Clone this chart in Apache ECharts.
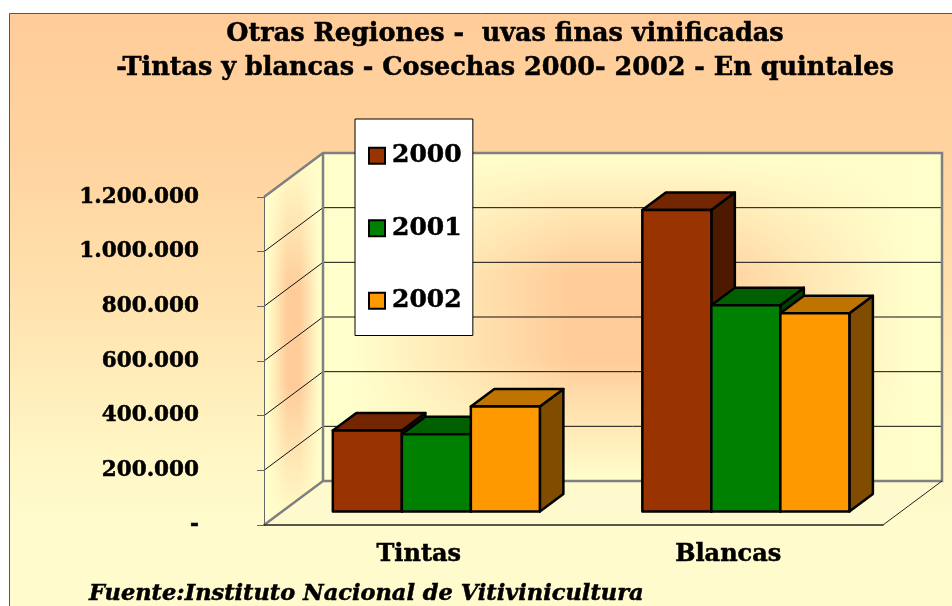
<!DOCTYPE html>
<html>
<head>
<meta charset="utf-8">
<style>
  html, body { margin: 0; padding: 0; background: #fff; }
  #chart { width: 952px; height: 606px; }
</style>
<script src="https://cdn.jsdelivr.net/npm/echarts@6/dist/echarts.min.js"></script>
</head>
<body>
<div id="chart"></div>
<script>
  // Data (quintales)
  const categories = ['Tintas', 'Blancas'];
  const years = ['2000', '2001', '2002'];
  const values2000 = [296000, 1103000];
  const values2001 = [283000, 755000];
  const values2002 = [384000, 725000];
  const yTicks = [0, 200000, 400000, 600000, 800000, 1000000, 1200000];
  const yTickLabels = ['-', '200.000', '400.000', '600.000', '800.000', '1.000.000', '1.200.000'];

  const FONT = '"DejaVu Serif", serif';
  const PEACH = '#FFCC99';

  // Faces of each bar: front, top, side
  const barColors = [
    ['#993300', '#732600', '#4D1A00'],
    ['#008000', '#006000', '#004000'],
    ['#FF9900', '#BF7300', '#804D00']
  ];

  // Depth of the 3D box and where the bars sit inside it
  const WALL_DX = 59, WALL_DY = -44;
  const BAR_SHIFT_X = 17.6, BAR_SHIFT_Y = -13.5;
  const BAR_DX = 23.5, BAR_DY = -17.5;
  const BAR_WIDTH_RATIO = 0.223;

  // Yellow veil, see-through in the middle: two crossed give the wall its peach centre
  function veil(horizontal, inner, outer) {
    return {
      type: 'linear', x: 0, y: 0, x2: horizontal ? 1 : 0, y2: horizontal ? 0 : 1,
      colorStops: [
        { offset: 0.5 - outer / 2, color: 'rgba(255,255,204,1)' },
        { offset: 0.5 - inner / 2, color: 'rgba(255,255,204,0)' },
        { offset: 0.5 + inner / 2, color: 'rgba(255,255,204,0)' },
        { offset: 0.5 + outer / 2, color: 'rgba(255,255,204,1)' }
      ]
    };
  }

  function renderWalls(params, api) {
    const box = params.coordSys;
    const x0 = box.x, x1 = box.x + box.width;
    const yBottom = box.y + box.height, yTop = box.y;
    const bx0 = x0 + WALL_DX, bx1 = x1 + WALL_DX;
    const byTop = yTop + WALL_DY, byBottom = yBottom + WALL_DY;
    const children = [];

    const sidePoints = [[x0, yTop], [bx0, byTop], [bx0, byBottom], [x0, yBottom]];
    const backPoints = [[bx0, byTop], [bx1, byTop], [bx1, byBottom], [bx0, byBottom]];
    const floorPoints = [[x0, yBottom], [bx0, byBottom], [bx1, byBottom], [x1, yBottom]];

    [sidePoints, backPoints].forEach(function (points) {
      children.push({ type: 'polygon', shape: { points: points }, style: { fill: PEACH } });
      children.push({ type: 'polygon', shape: { points: points }, style: { fill: veil(true, 0.2, 0.9) } });
      children.push({ type: 'polygon', shape: { points: points }, style: { fill: veil(false, 0.25, 1) } });
    });
    children.push({ type: 'polygon', shape: { points: floorPoints }, style: { fill: '#FFFACD' } });

    // Gridlines run along the side wall and then across the back wall
    yTicks.slice(1, -1).forEach(function (tick) {
      const y = api.coord([0, tick])[1];
      children.push({
        type: 'polyline',
        shape: { points: [[x0, y], [bx0, y + WALL_DY], [bx1, y + WALL_DY]] },
        style: { fill: 'none', stroke: '#111', lineWidth: 1 }
      });
    });

    // Grey frame of the walls
    children.push({
      type: 'polyline',
      shape: { points: [[x0, yTop], [bx0, byTop], [bx1, byTop], [bx1, byBottom], [bx0, byBottom], [x0, yBottom]] },
      style: { fill: 'none', stroke: '#808080', lineWidth: 2.5 }
    });
    children.push({
      type: 'line',
      shape: { x1: bx0, y1: byTop, x2: bx0, y2: byBottom },
      style: { stroke: '#808080', lineWidth: 2.5 }
    });
    children.push({
      type: 'line',
      shape: { x1: x1, y1: yBottom, x2: bx1, y2: byBottom },
      style: { stroke: '#222', lineWidth: 1 }
    });
    return { type: 'group', children: children };
  }

  function makeBarRenderer(yearIndex) {
    return function (params, api) {
      const top = api.coord([api.value(0), api.value(1)]);
      const base = api.coord([api.value(0), 0]);
      const band = api.size([1, 0])[0];
      const w = band * BAR_WIDTH_RATIO;
      const left = top[0] + (yearIndex - 1.5) * w + BAR_SHIFT_X;
      const right = left + w;
      const y0 = top[1] + BAR_SHIFT_Y;
      const y1 = base[1] + BAR_SHIFT_Y;
      const colors = barColors[yearIndex];
      const edge = { stroke: '#000', lineWidth: 2.5, lineJoin: 'round' };

      return {
        type: 'group',
        children: [
          {
            type: 'polygon',
            shape: { points: [[right, y0], [right + BAR_DX, y0 + BAR_DY], [right + BAR_DX, y1 + BAR_DY], [right, y1]] },
            style: Object.assign({ fill: colors[2] }, edge)
          },
          {
            type: 'polygon',
            shape: { points: [[left, y0], [left + BAR_DX, y0 + BAR_DY], [right + BAR_DX, y0 + BAR_DY], [right, y0]] },
            style: Object.assign({ fill: colors[1] }, edge)
          },
          {
            type: 'rect',
            shape: { x: left, y: y0, width: w, height: y1 - y0 },
            style: Object.assign({ fill: colors[0] }, edge)
          }
        ]
      };
    };
  }

  const chart = echarts.init(document.getElementById('chart'), null, { renderer: 'canvas' });

  const seriesValues = [values2000, values2001, values2002];
  const barSeries = years.map(function (year, i) {
    return {
      name: year,
      type: 'custom',
      coordinateSystem: 'cartesian2d',
      renderItem: makeBarRenderer(i),
      clip: false,
      z: 3,
      silent: true,
      itemStyle: { color: barColors[i][0] },
      encode: { x: 0, y: 1 },
      data: categories.map(function (c, k) { return [k, seriesValues[i][k]]; })
    };
  });

  // Text is a touch heavier in the original than DejaVu Serif Bold
  const heavy = { textBorderColor: '#000', textBorderWidth: 0.5 };

  chart.setOption({
    animation: false,
    backgroundColor: '#fff',
    graphic: [{
      type: 'rect',
      z: -10,
      shape: { x: 9.5, y: 13.5, width: 1000, height: 700 },
      style: {
        stroke: '#555',
        lineWidth: 1,
        fill: {
          type: 'linear', global: true, x: 0, y: 13, x2: 0, y2: 520,
          colorStops: [
            { offset: 0, color: PEACH },
            { offset: 0.27, color: '#FFD39F' },
            { offset: 0.57, color: '#FFE2AE' },
            { offset: 0.86, color: '#FFF6C4' },
            { offset: 1, color: '#FFFBCD' }
          ]
        }
      }
    }],
    title: [
      {
        text: 'Otras Regiones -  uvas finas vinificadas\n-Tintas y blancas - Cosechas 2000- 2002 - En quintales',
        left: 500,
        top: 12,
        textAlign: 'center',
        textStyle: Object.assign({ fontFamily: FONT, fontWeight: 'bold', fontSize: 25.5, lineHeight: 34, color: '#000' }, heavy)
      },
      {
        text: 'Fuente:Instituto Nacional de Vitivinicultura',
        left: 84,
        top: 578,
        textStyle: Object.assign({ fontFamily: FONT, fontWeight: 'bold', fontStyle: 'italic', fontSize: 22.5, color: '#000' }, heavy)
      }
    ],
    legend: {
      orient: 'vertical',
      left: 355,
      top: 119,
      padding: [24, 11, 22, 13],
      itemWidth: 16,
      itemHeight: 16,
      itemGap: 47,
      itemStyle: { borderColor: '#000', borderWidth: 2 },
      backgroundColor: '#fff',
      borderColor: '#000',
      borderWidth: 1,
      // Bottom padding pushes the middle-aligned text down to the swatch centre
      textStyle: Object.assign({ fontFamily: FONT, fontWeight: 'bold', fontSize: 25, color: '#000', padding: [0, 0, 6, 2] }, heavy),
      data: years.map(function (year, i) {
        return { name: year, icon: 'rect', itemStyle: { color: barColors[i][0], borderColor: '#000', borderWidth: 2 } };
      })
    },
    grid: { left: 264, right: 69, top: 197, bottom: 81 },
    xAxis: {
      type: 'category',
      data: categories,
      z: 5,
      axisLine: { lineStyle: { color: '#222', width: 1.5 } },
      axisTick: { length: 7, lineStyle: { color: '#222' } },
      axisLabel: Object.assign({ margin: 18, fontFamily: FONT, fontWeight: 'bold', fontSize: 24, color: '#000' }, heavy)
    },
    yAxis: {
      type: 'value',
      min: 0,
      max: 1200000,
      interval: 200000,
      z: 5,
      splitLine: { show: false },
      axisLine: { show: true, lineStyle: { color: '#666', width: 1 } },
      axisTick: { show: true, length: 7, lineStyle: { color: '#666' } },
      axisLabel: Object.assign({
        margin: 65,
        fontFamily: FONT,
        fontWeight: 'bold',
        fontSize: 21.5,
        color: '#000',
        formatter: function (value, index) { return yTickLabels[index]; }
      }, heavy)
    },
    series: [{
      name: 'walls',
      type: 'custom',
      coordinateSystem: 'cartesian2d',
      renderItem: renderWalls,
      clip: false,
      z: 1,
      silent: true,
      encode: { x: 0, y: 1 },
      data: [[0, 0]]
    }].concat(barSeries)
  });
</script>
</body>
</html>
